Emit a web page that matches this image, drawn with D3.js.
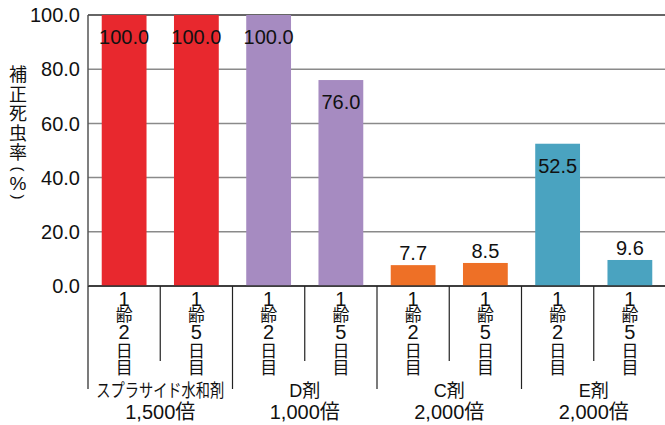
<!DOCTYPE html>
<html>
<head>
<meta charset="utf-8">
<script src="https://cdn.jsdelivr.net/npm/d3@7"></script>
<style>
  body { margin: 0; background: #fff; }
  svg text { font-family: "Liberation Sans", "Noto Sans CJK JP", sans-serif; fill: #111; }
  svg text.jp { font-family: "Noto Sans CJK JP", sans-serif; }
</style>
</head>
<body>
<div id="chart"></div>
<script>
// data
const groups = ['スプラサイド水和剤', 'D剤', 'C剤', 'E剤']
const dilutions = ['1,500倍', '1,000倍', '2,000倍', '2,000倍']
const timings = ['1齢2日目', '1齢5日目']
const colors = ['#e8282e', '#a68bc1', '#ee7026', '#4aa3c0']
const values = [100.0, 100.0, 100.0, 76.0, 7.7, 8.5, 52.5, 9.6]
const yTicks = [0, 20, 40, 60, 80, 100]
const yTitle = ['補', '正', '死', '虫', '率', '(', '%', ')']

const width = 665, height = 425
const margin = { top: 15, right: -1, bottom: 139, left: 88 }

const bars = values.map((v, i) => ({
    key: i,
    value: v,
    group: Math.floor(i / 2),
    timing: timings[i % 2],
    color: colors[Math.floor(i / 2)]
}))

const isDigit = c => /[0-9%]/.test(c)
const isParen = c => c === '(' || c === ')'

const svg = d3.select('#chart').append('svg')
    .attr('width', width)
    .attr('height', height)

const x = d3.scaleBand()
    .domain(bars.map(d => d.key))
    .range([margin.left, width - margin.right])
    .padding(0)

const y = d3.scaleLinear()
    .domain([0, 100])
    .range([height - margin.bottom, margin.top])

const barW = x.bandwidth() * 0.62

// gridlines
svg.selectAll('.grid')
    .data(yTicks)
    .enter().append('line')
    .attr('x1', margin.left)
    .attr('x2', width)
    .attr('y1', d => y(d))
    .attr('y2', d => y(d))
    .style('stroke', d => (d === 0 || d === 100) ? '#333' : '#8a8a8a')
    .style('stroke-width', 1.5)

// bars
svg.selectAll('.bar')
    .data(bars)
    .enter().append('rect')
    .attr('x', d => x(d.key) + (x.bandwidth() - barW) / 2)
    .attr('y', d => y(d.value))
    .attr('width', barW)
    .attr('height', d => y(0) - y(d.value))
    .style('fill', d => d.color)

// axis lines over bars
svg.append('line')
    .attr('x1', margin.left).attr('x2', width)
    .attr('y1', y(0)).attr('y2', y(0))
    .style('stroke', '#333').style('stroke-width', 1.5)

svg.append('line')
    .attr('x1', margin.left).attr('x2', margin.left)
    .attr('y1', y(100)).attr('y2', y(0))
    .style('stroke', '#555').style('stroke-width', 1.5)

// value labels: inside near the top when tall, above when short
svg.selectAll('.val')
    .data(bars)
    .enter().append('text')
    .attr('x', d => x(d.key) + x.bandwidth() / 2)
    .attr('y', d => d.value > 20 ? y(d.value) + 29 : y(d.value) - 5)
    .attr('text-anchor', 'middle')
    .style('font-size', '20px')
    .text(d => d3.format('.1f')(d.value))

// y tick labels
svg.selectAll('.ytick')
    .data(yTicks)
    .enter().append('text')
    .attr('x', margin.left - 8)
    .attr('y', d => y(d))
    .attr('dy', '0.36em')
    .attr('text-anchor', 'end')
    .style('font-size', '20px')
    .text(d => d3.format('.1f')(d))

// y title, one character per line; parens turned for vertical writing
const titleY = [74, 94, 113, 133, 152, 169, 183, 197]
svg.selectAll('.ytitle')
    .data(yTitle)
    .enter().append('text')
    .attr('class', c => isDigit(c) || isParen(c) ? 'ytitle' : 'ytitle jp')
    .attr('text-anchor', 'middle')
    .attr('dy', c => isParen(c) ? '0.33em' : '0.38em')
    .attr('transform', (c, i) => isParen(c)
        ? `translate(18,${titleY[i]}) rotate(90)`
        : `translate(18,${titleY[i]})`)
    .style('font-size', c => isParen(c) ? '15px' : (c === '%' ? '19px' : '18px'))
    .text(c => c)

// category separators
const seps = d3.range(bars.length).map(i => ({ i, long: i % 2 === 0 }))
svg.selectAll('.sep')
    .data(seps)
    .enter().append('line')
    .attr('x1', d => x(d.i))
    .attr('x2', d => x(d.i))
    .attr('y1', y(0))
    .attr('y2', d => d.long ? 389 : 361)
    .style('stroke', '#222')
    .style('stroke-width', 1.2)

// vertical per-bar labels, one character per line
const charBase = [306, 321, 339, 357, 374]
bars.forEach(d => {
    svg.selectAll(null)
        .data(Array.from(d.timing))
        .enter().append('text')
        .attr('class', c => isDigit(c) ? 'tl' : 'tl jp')
        .attr('x', x(d.key) + x.bandwidth() / 2)
        .attr('y', (c, j) => charBase[j])
        .attr('text-anchor', 'middle')
        .style('font-size', c => isDigit(c) ? '20px' : '17px')
        .text(c => c)
})

// group labels
svg.selectAll('.gname')
    .data(groups)
    .enter().append('text')
    .attr('x', (d, i) => x(i * 2) + x.bandwidth())
    .attr('y', 397)
    .attr('text-anchor', 'middle')
    .style('font-size', '18px')
    .each(function (d) {
        if (d.length > 4) d3.select(this).attr('textLength', 128).attr('lengthAdjust', 'spacingAndGlyphs')
    })
    .text(d => d)

svg.selectAll('.gdil')
    .data(dilutions)
    .enter().append('text')
    .attr('x', (d, i) => x(i * 2) + x.bandwidth())
    .attr('y', 419)
    .attr('text-anchor', 'middle')
    .style('font-size', '20px')
    .text(d => d)
</script>
</body>
</html>
